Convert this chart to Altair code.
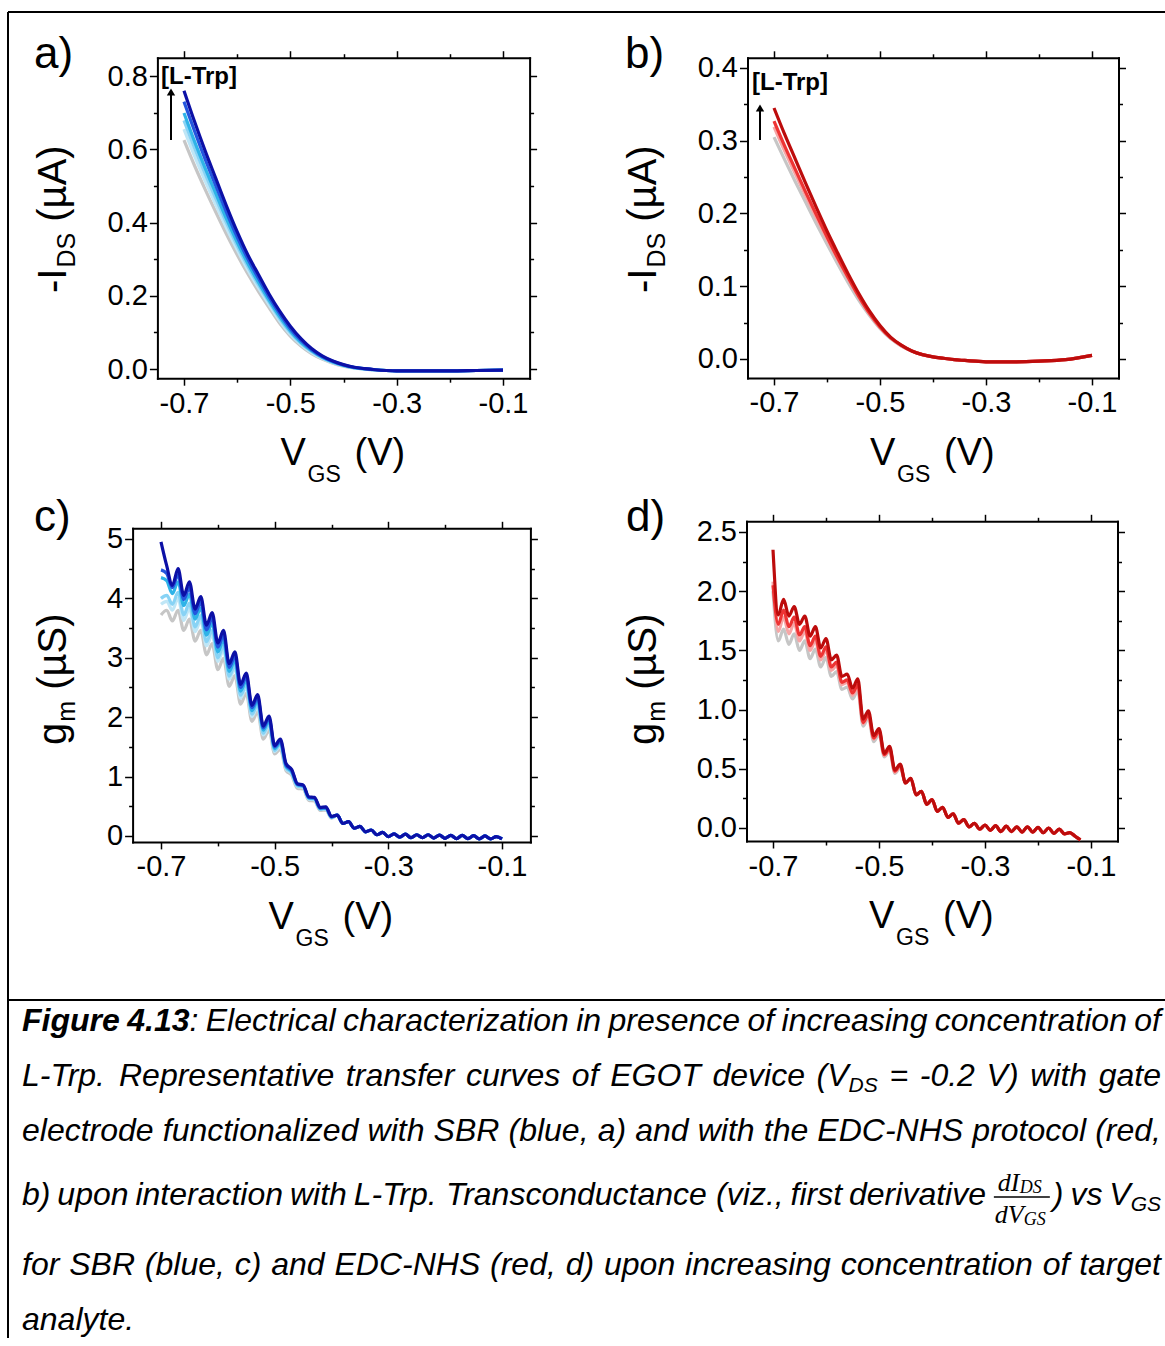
import altair as alt
import pandas as pd

W, H = 1165, 1338
FONT = "Liberation Sans"
XDOM = [-0.75, -0.05]

# ---------------- data ----------------
# a) transfer curves, SBR (blue): -I_DS (uA) vs V_GS (V)
VGS_AB = [-0.70, -0.68, -0.66, -0.64, -0.62, -0.60, -0.58, -0.56, -0.54, -0.52, -0.50, -0.48,
          -0.46, -0.44, -0.42, -0.40, -0.38, -0.36, -0.34, -0.32, -0.30, -0.25, -0.20, -0.15, -0.10]
IDS_A_GRAY = [0.625, 0.555, 0.490, 0.428, 0.368, 0.312, 0.260, 0.212, 0.168, 0.125, 0.090, 0.063, 0.042,
              0.027, 0.016, 0.008, 0.003, 0.000, -0.002, -0.004, -0.005, -0.005, -0.005, -0.004, -0.003]
IDS_A_PALE = [0.655, 0.581, 0.513, 0.448, 0.385, 0.326, 0.271, 0.222, 0.176, 0.132, 0.095, 0.067, 0.045,
              0.029, 0.017, 0.009, 0.003, 0.000, -0.002, -0.004, -0.005, -0.005, -0.005, -0.004, -0.003]
IDS_A_LIGHT = [0.679, 0.603, 0.532, 0.465, 0.399, 0.337, 0.281, 0.230, 0.183, 0.138, 0.100, 0.070, 0.048,
               0.031, 0.018, 0.010, 0.004, 0.000, -0.002, -0.004, -0.005, -0.005, -0.005, -0.004, -0.003]
IDS_A_SKY = [0.699, 0.621, 0.548, 0.479, 0.410, 0.347, 0.289, 0.237, 0.188, 0.143, 0.104, 0.073, 0.050,
             0.032, 0.019, 0.010, 0.004, 0.001, -0.002, -0.004, -0.005, -0.005, -0.005, -0.004, -0.003]
IDS_A_BLUE = [0.730, 0.649, 0.572, 0.500, 0.428, 0.361, 0.301, 0.248, 0.197, 0.151, 0.110, 0.078, 0.053,
              0.034, 0.021, 0.011, 0.005, 0.001, -0.002, -0.004, -0.005, -0.005, -0.005, -0.004, -0.003]
IDS_A_NAVY = [0.760, 0.675, 0.595, 0.520, 0.445, 0.375, 0.312, 0.258, 0.205, 0.158, 0.117, 0.083, 0.056,
              0.036, 0.022, 0.012, 0.005, 0.001, -0.002, -0.004, -0.005, -0.005, -0.005, -0.004, -0.003]

# b) transfer curves, EDC-NHS (red)
IDS_B_GRAY = [0.305, 0.274, 0.244, 0.215, 0.186, 0.158, 0.131, 0.105, 0.081, 0.060, 0.042, 0.028, 0.018,
              0.011, 0.006, 0.003, 0.001, -0.001, -0.002, -0.003, -0.004, -0.004, -0.003, -0.001, 0.005]
IDS_B_PINK = [0.319, 0.286, 0.255, 0.224, 0.194, 0.165, 0.137, 0.110, 0.085, 0.062, 0.043, 0.029, 0.018,
              0.011, 0.006, 0.003, 0.001, -0.001, -0.002, -0.003, -0.004, -0.004, -0.003, -0.001, 0.005]
IDS_B_RED = [0.327, 0.293, 0.261, 0.229, 0.198, 0.168, 0.139, 0.112, 0.086, 0.063, 0.044, 0.029, 0.019,
             0.011, 0.006, 0.003, 0.001, -0.001, -0.002, -0.003, -0.004, -0.004, -0.003, -0.001, 0.005]
IDS_B_DARK = [0.345, 0.309, 0.275, 0.241, 0.208, 0.176, 0.146, 0.117, 0.090, 0.066, 0.046, 0.030, 0.019,
              0.011, 0.006, 0.003, 0.001, -0.001, -0.002, -0.003, -0.004, -0.004, -0.003, -0.001, 0.005]

# c) transconductance, SBR (blue): g_m (uS) vs V_GS (V)
VGS_C = [-0.70, -0.69, -0.68, -0.67, -0.66, -0.65, -0.64, -0.63, -0.62, -0.61, -0.60, -0.59, -0.58,
         -0.57, -0.56, -0.55, -0.54, -0.53, -0.52, -0.51, -0.50, -0.49, -0.48, -0.47, -0.46, -0.45,
         -0.44, -0.43, -0.42, -0.41, -0.40, -0.39, -0.38, -0.37, -0.36, -0.35, -0.34, -0.33, -0.32,
         -0.31, -0.30, -0.29, -0.28, -0.27, -0.26, -0.25, -0.24, -0.23, -0.22, -0.21, -0.20, -0.19,
         -0.18, -0.17, -0.16, -0.15, -0.14, -0.13, -0.12, -0.11, -0.10]
GM_C_TAIL = [0.35, 0.21, 0.24, 0.13, 0.16, 0.07, 0.10, 0.02, 0.06, -0.01, 0.035, -0.02, 0.03, -0.03, 0.02,
             -0.03, 0.02, -0.035, 0.015, -0.04, 0.01, -0.045, 0.01, -0.045, 0.005, -0.05, 0.0, -0.05,
             -0.01, -0.05]
GM_C_GRAY = [3.72, 3.80, 3.62, 3.80, 3.46, 3.65, 3.28, 3.46, 3.05, 3.24, 2.80, 2.99, 2.52, 2.70, 2.22, 2.40,
             1.93, 2.09, 1.63, 1.78, 1.38, 1.46, 1.10, 1.02, 0.80, 0.79, 0.60, 0.59, 0.43, 0.44, 0.30] + GM_C_TAIL
GM_C_PALE = [3.90, 3.95, 3.80, 4.00, 3.63, 3.83, 3.44, 3.63, 3.20, 3.39, 2.94, 3.13, 2.64, 2.82, 2.32, 2.50,
             2.01, 2.18, 1.70, 1.85, 1.42, 1.51, 1.13, 1.05, 0.83, 0.82, 0.62, 0.61, 0.45, 0.45, 0.31] + GM_C_TAIL
GM_C_LIGHT = [4.00, 4.05, 3.90, 4.10, 3.72, 3.92, 3.52, 3.71, 3.27, 3.46, 3.00, 3.20, 2.69, 2.88, 2.37, 2.55,
              2.05, 2.22, 1.73, 1.89, 1.44, 1.54, 1.15, 1.06, 0.84, 0.83, 0.63, 0.62, 0.45, 0.46, 0.31] + GM_C_TAIL
GM_C_SKY = [4.35, 4.30, 4.08, 4.28, 3.88, 4.07, 3.65, 3.84, 3.38, 3.58, 3.10, 3.30, 2.77, 2.96, 2.44, 2.62,
            2.11, 2.28, 1.78, 1.94, 1.47, 1.57, 1.17, 1.08, 0.86, 0.84, 0.64, 0.63, 0.46, 0.47, 0.32] + GM_C_TAIL
GM_C_BLUE = [4.48, 4.42, 4.18, 4.40, 3.98, 4.18, 3.74, 3.94, 3.47, 3.67, 3.18, 3.38, 2.84, 3.03, 2.50, 2.68,
             2.16, 2.33, 1.82, 1.98, 1.50, 1.60, 1.19, 1.10, 0.87, 0.85, 0.65, 0.64, 0.47, 0.48, 0.32] + GM_C_TAIL
GM_C_NAVY = [4.95, 4.55, 4.22, 4.50, 4.05, 4.28, 3.82, 4.03, 3.55, 3.76, 3.25, 3.46, 2.90, 3.10, 2.55, 2.74,
             2.20, 2.38, 1.85, 2.02, 1.52, 1.63, 1.22, 1.12, 0.88, 0.86, 0.66, 0.65, 0.48, 0.49, 0.33] + GM_C_TAIL

# d) transconductance, EDC-NHS (red)
VGS_D = VGS_C[:59]
GM_D_TAIL = [0.38, 0.42, 0.28, 0.31, 0.20, 0.24, 0.14, 0.175, 0.09, 0.12, 0.04, 0.07, 0.01, 0.04, -0.01,
             0.025, -0.02, 0.02, -0.03, 0.015, -0.03, 0.01, -0.035, 0.01, -0.035, 0.005, -0.04, 0.0, -0.045,
             -0.01, -0.05, -0.04, -0.07, -0.10]
GM_D_GRAY = [2.00, 1.58, 1.68, 1.55, 1.64, 1.50, 1.58, 1.43, 1.51, 1.36, 1.44, 1.28, 1.32, 1.17, 1.19, 1.09,
             1.16, 0.86, 0.93, 0.73, 0.79, 0.60, 0.65, 0.46, 0.51] + GM_D_TAIL
GM_D_PINK = [2.08, 1.66, 1.78, 1.64, 1.73, 1.58, 1.66, 1.50, 1.58, 1.42, 1.50, 1.33, 1.37, 1.21, 1.23, 1.12,
             1.19, 0.88, 0.95, 0.75, 0.81, 0.61, 0.66, 0.47, 0.52] + GM_D_TAIL
GM_D_RED = [2.05, 1.72, 1.84, 1.70, 1.78, 1.63, 1.70, 1.54, 1.62, 1.45, 1.53, 1.36, 1.40, 1.23, 1.25, 1.14,
            1.21, 0.89, 0.96, 0.76, 0.82, 0.62, 0.67, 0.48, 0.53] + GM_D_TAIL
GM_D_DARK = [2.35, 1.80, 1.93, 1.79, 1.87, 1.72, 1.79, 1.62, 1.70, 1.52, 1.60, 1.42, 1.46, 1.28, 1.30, 1.18,
             1.26, 0.92, 0.99, 0.78, 0.84, 0.63, 0.69, 0.49, 0.54] + GM_D_TAIL

X_MAJOR = [-0.7, -0.5, -0.3, -0.1]
X_MINOR = [-0.6, -0.4, -0.2]

BLUE_COLORS = ["#c6c6c6", "#bfe6f6", "#88d3f5", "#2fb3e8", "#2456de", "#0c10a6"]
RED_COLORS = ["#c6c6c6", "#f6a6a6", "#ee3434", "#bd0c0c"]

XFMT = "'-' + format(abs(datum.value), '.1f')"

PANELS = {
    "a": dict(x_rng=[157.4, 529.6], y_dom=[-0.025, 0.85], y_rng=[378.2, 57.7],
              y_major=[0, 0.2, 0.4, 0.6, 0.8], y_minor=[0.1, 0.3, 0.5, 0.7],
              y_fmt="format(datum.value, '.1f')"),
    "b": dict(x_rng=[747.5, 1118.5], y_dom=[-0.026, 0.414], y_rng=[377.9, 57.8],
              y_major=[0, 0.1, 0.2, 0.3, 0.4], y_minor=[0.05, 0.15, 0.25, 0.35],
              y_fmt="format(datum.value, '.1f')"),
    "c": dict(x_rng=[132.6, 530.4], y_dom=[-0.1, 5.18], y_rng=[841.9, 528.3],
              y_major=[0, 1, 2, 3, 4, 5], y_minor=[0.5, 1.5, 2.5, 3.5, 4.5],
              y_fmt="format(datum.value, 'd')"),
    "d": dict(x_rng=[746.5, 1117.5], y_dom=[-0.11, 2.59], y_rng=[841.0, 521.3],
              y_major=[0, 0.5, 1, 1.5, 2, 2.5], y_minor=[0.25, 0.75, 1.25, 1.75, 2.25],
              y_fmt="format(datum.value, '.1f')"),
}

# ---------------- helpers ----------------
ONE = pd.DataFrame({"k": [0]})

_AR = {}
for chars, w in [(" !,.:;[]fIt", 278), ("ijl", 222), ("()-r", 333), ("Jcksvxyz", 500),
                 ("0123456789abdeghnopquL", 556), ("µ", 576), ("=", 584), ("FTZ", 611),
                 ("ABEKPSVXY", 667), ("CDHNRUw", 722), ("GOQ", 778), ("Mm", 833), ("W", 944)]:
    for ch in chars:
        _AR[ch] = w
_ARB = {"F": 611, "i": 278, "g": 611, "u": 611, "r": 389, "e": 556, " ": 278, ".": 278}


def tw(s, size, bold=False):
    table = _ARB if bold else _AR
    return sum(table.get(ch, 556) for ch in s) * size / 1000.0


def text_layer(s, x, y, size, angle=0, style="normal", weight="normal", font=FONT, align="left"):
    return alt.Chart(ONE).mark_text(
        text=s, font=font, fontSize=size, fontStyle=style, fontWeight=weight,
        angle=angle, align=align, baseline="alphabetic", color="black"
    ).encode(x=alt.value(x), y=alt.value(y))


def hline(x1, x2, y, w=2):
    return alt.Chart(ONE).mark_rule(color="black", strokeWidth=w).encode(
        x=alt.value(x1), x2=alt.value(x2), y=alt.value(y))


def vline(x, y1, y2, w=2):
    return alt.Chart(ONE).mark_rule(color="black", strokeWidth=w).encode(
        x=alt.value(x), y=alt.value(y1), y2=alt.value(y2))


def ax(orient, offset, values, size, fmt=None, pad=3, domain=True):
    kw = dict(orient=orient, offset=offset, values=values, tickSize=size, tickColor="black",
              tickWidth=1.5, domain=domain, domainColor="black", domainWidth=2,
              domainCap="square", grid=False, title=None, ticks=True)
    if fmt:
        kw.update(labels=True, labelExpr=fmt, labelFont=FONT, labelFontSize=29,
                  labelColor="black", labelPadding=pad, labelOverlap=False, labelFlush=False)
    else:
        kw.update(labels=False)
    return alt.Axis(**kw)


def panel(xs, series, colors, spec, interp):
    sx = alt.Scale(domain=XDOM, range=spec["x_rng"], zero=False, nice=False)
    sy = alt.Scale(domain=spec["y_dom"], range=spec["y_rng"], zero=False, nice=False)
    layers = []
    for ys, col in zip(series, colors):
        df = pd.DataFrame({"v": xs, "y": ys})
        layers.append(alt.Chart(df).mark_line(color=col, strokeWidth=3.2, interpolate=interp).encode(
            x=alt.X("v:Q", scale=sx, axis=None), y=alt.Y("y:Q", scale=sy, axis=None)))
    base = pd.DataFrame({"v": xs, "y": series[0]})
    x0, x1 = spec["x_rng"]
    ybot, ytop = spec["y_rng"]
    axes = [
        (ax("bottom", ybot - H, X_MAJOR, 7, XFMT, 4), ax("left", -x0, spec["y_major"], 8, spec["y_fmt"], 2)),
        (ax("bottom", ybot - H, X_MINOR, 4, domain=False), ax("left", -x0, spec["y_minor"], 4, domain=False)),
        (ax("top", -ytop, X_MAJOR, 7), ax("right", x1 - W, spec["y_major"], 7)),
        (ax("top", -ytop, X_MINOR, 4, domain=False), ax("right", x1 - W, spec["y_minor"], 4, domain=False)),
    ]
    for axx, axy in axes:
        layers.append(alt.Chart(base).mark_line(opacity=0).encode(
            x=alt.X("v:Q", scale=sx, axis=axx), y=alt.Y("y:Q", scale=sy, axis=axy)))
    return layers


def xtitle(cx, yb):
    return [text_layer("V", cx - 63, yb + 87, 38),
            text_layer("GS", cx - 36, yb + 104, 23),
            text_layer("(V)", cx + 11, yb + 87, 38)]


def ytitle(main, sub, unit, xb, y0, size=40, ssize=25, sshift=9):
    out = [text_layer(main, xb, y0, size, angle=270)]
    y1 = y0 - tw(main, size) - 1
    out.append(text_layer(sub, xb + sshift, y1, ssize, angle=270))
    y2 = y1 - tw(sub, ssize) - tw(" ", size)
    out.append(text_layer(unit, xb, y2, size, angle=270))
    return out


def arrow(x, y_from, y_to):
    return [vline(x, y_from, y_to + 6, 2),
            alt.Chart(ONE).mark_point(shape="triangle-up", filled=True, size=70, color="black",
                                      opacity=1).encode(x=alt.value(x), y=alt.value(y_to + 4))]


CAP, CAPSUB = 32, 21
SERIF = "Liberation Serif"


def fraction(cx, y):
    out = []
    cxm = cx + 29
    nx = cxm - 24
    dx = cxm - 27
    out.append(text_layer("dI", nx, y - 14, 26, style="italic", font=SERIF))
    out.append(text_layer("DS", nx + 22, y - 12, 18, style="italic", font=SERIF))
    out.append(hline(cx + 1, cx + 57, y - 8, 1.4))
    out.append(text_layer("dV", dx, y + 18, 26, style="italic", font=SERIF))
    out.append(text_layer("GS", dx + 29, y + 20, 18, style="italic", font=SERIF))
    return out


def cap_line(runs, y, x0=22, x1=None):
    words = [[]]
    for text, kind in runs:
        if kind in ("sub", "frac"):
            words[-1].append((text, kind))
            continue
        for j, part in enumerate(text.split(" ")):
            if j > 0:
                words.append([])
            if part:
                words[-1].append((part, kind))
    words = [w for w in words if w]

    def pw(p):
        t, k = p
        if k == "bi":
            return tw(t, CAP, bold=True)
        if k == "sub":
            return tw(t, CAPSUB)
        if k == "frac":
            return 60
        return tw(t, CAP)

    wsum = sum(pw(p) for w in words for p in w)
    gap = tw(" ", CAP) if x1 is None else (x1 - x0 - wsum) / (len(words) - 1)
    out = []
    cx = x0
    for w in words:
        for p in w:
            t, k = p
            if k == "frac":
                out += fraction(cx, y)
            elif k == "sub":
                out.append(text_layer(t, cx, y + 6, CAPSUB, style="italic"))
            elif k == "bi":
                out.append(text_layer(t, cx, y, CAP, style="italic", weight="bold"))
            else:
                out.append(text_layer(t, cx, y, CAP, style="italic"))
            cx += pw(p)
        cx += gap
    return out


# ---------------- build ----------------
layers = []
# figure frame
layers += [hline(8, W, 12), vline(8, 12, H), hline(8, W, 1000)]

layers += panel(VGS_AB, [IDS_A_GRAY, IDS_A_PALE, IDS_A_LIGHT, IDS_A_SKY, IDS_A_BLUE, IDS_A_NAVY],
                BLUE_COLORS, PANELS["a"], "monotone")
layers += panel(VGS_AB, [IDS_B_GRAY, IDS_B_PINK, IDS_B_RED, IDS_B_DARK],
                RED_COLORS, PANELS["b"], "monotone")
layers += panel(VGS_C, [GM_C_GRAY, GM_C_PALE, GM_C_LIGHT, GM_C_SKY, GM_C_BLUE, GM_C_NAVY],
                BLUE_COLORS, PANELS["c"], "monotone")
layers += panel(VGS_D, [GM_D_GRAY, GM_D_PINK, GM_D_RED, GM_D_DARK],
                RED_COLORS, PANELS["d"], "monotone")

# panel letters
layers += [text_layer("a)", 34, 68, 44), text_layer("b)", 625, 68, 44),
           text_layer("c)", 34, 531, 44), text_layer("d)", 626, 531, 44)]

# axis titles
for key in "abcd":
    sp = PANELS[key]
    layers += xtitle((sp["x_rng"][0] + sp["x_rng"][1]) / 2, sp["y_rng"][0])
layers += ytitle("-I", "DS", "(µA)", 66, 293)
layers += ytitle("-I", "DS", "(µA)", 656, 293)
layers += ytitle("g", "m", "(µS)", 66, 745)
layers += ytitle("g", "m", "(µS)", 656, 745)

# [L-Trp] annotations with arrows
layers += [text_layer("[L-Trp]", 161, 84, 24, weight="bold"),
           text_layer("[L-Trp]", 752, 90, 24, weight="bold")]
layers += arrow(171, 140, 88)
layers += arrow(760, 140, 104)

# caption
layers += cap_line([("Figure 4.13", "bi"),
                    (": Electrical characterization in presence of increasing concentration of", "i")],
                   1031, x1=1161)
layers += cap_line([("L-Trp. Representative transfer curves of EGOT device (V", "i"), ("DS", "sub"),
                    (" = -0.2 V) with gate", "i")], 1086, x1=1161)
layers += cap_line([("electrode functionalized with SBR (blue, a) and with the EDC-NHS protocol (red,", "i")],
                   1141, x1=1161)
layers += cap_line([("b) upon interaction with L-Trp. Transconductance (viz., first derivative ", "i"),
                    ("", "frac"), (") vs V", "i"), ("GS", "sub")], 1205, x1=1161)
layers += cap_line([("for SBR (blue, c) and EDC-NHS (red, d) upon increasing concentration of target", "i")],
                   1275, x1=1161)
layers += cap_line([("analyte.", "i")], 1330)

chart = alt.layer(*layers).resolve_scale(
    x="independent", y="independent"
).resolve_axis(
    x="independent", y="independent"
).properties(
    width=W, height=H, padding=0,
    autosize=alt.AutoSizeParams(type="none"),
    background="white",
).configure_view(stroke=None)

chart.save("out.html", embed_options={"renderer": "svg", "actions": False})
